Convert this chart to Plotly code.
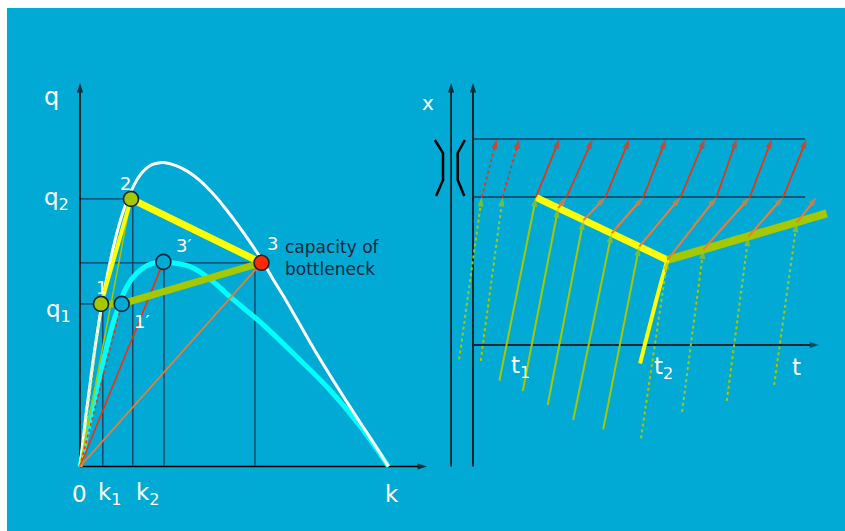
import plotly.graph_objects as go

# ---------------- colours ----------------
BG = '#00AAD4'
NAVY = '#1b3a58'
YELLOW = '#FFFF00'
YG = '#A6C800'
RED = '#FF2A00'
ORANGE = '#F07B32'
CYAN = '#00FFFF'
WHITE = '#FFFFFF'
BLACK = '#000000'
FONT = 'DejaVu Sans'

# ---------------- left panel: fundamental diagram (k, q) ----------------
k_white = [0, 2, 4, 6, 8, 10, 12, 14, 16, 18, 20, 22, 24, 26, 27.8, 32, 36, 40, 44, 48, 52, 56, 60,
           64, 68, 72, 76, 80, 84, 88, 92, 96, 100, 102.8]
q_white = [0, 17.2, 32.6, 46.1, 58.0, 68.1, 76.7, 83.8, 89.4, 93.8, 97.1, 99.3, 100.6, 101.2, 101.3,
           100.3, 98.3, 95.3, 91.3, 86.6, 81.4, 75.8, 69.8, 63.0, 56.5, 49.6, 42.6, 35.8, 29.3, 23.0,
           16.8, 10.7, 4.5, 0]

k_cyan = [0, 5.6, 8.9, 11.7, 15.6, 18.9, 23.3, 28, 36.7, 44.4, 50, 61.1, 72.2, 83.3, 94.4, 102.8]
q_cyan = [0, 26, 39.9, 49.9, 59.9, 64.4, 67.4, 68, 66.6, 61.6, 56.6, 47.2, 36.6, 25.5, 12.2, 0]

# states 1, 1', 2, 3', 3
state_names = ['1', "1'", '2', "3'", '3']
state_k = [7.0, 13.9, 17.0, 27.8, 60.5]
state_q = [54.2, 54.2, 89.2, 68.2, 67.9]

# guide values
q1, q2, q3 = 54.2, 89.2, 67.9
k1, k2, k3p, k3 = 7.6, 17.6, 28.0, 58.3
k_axis_end, q_axis_end = 115.7, 127.8

# ---------------- right panel: time-space diagram (t, x) ----------------
x_entry, x_exit = 74.0, 103.0          # bottleneck entry / exit
t_lines_end = 110.7
t_axis_end = 115.4
x_vert_bottom, x_vert_top = -60.8, 131.0
t_road_lines = [-7.3, 0.0]

t_start = [-4.6, 2.6, 8.8, 16.6, 24.9, 33.4, 43.4, 56.0, 69.7, 84.6, 100.4]
x_start = [-7.2, -7.9, -17.9, -23.0, -30.0, -37.5, -42.2, -46.7, -33.4, -27.9, -20.0]
t_shock = [None, None, 21.0, 28.4, 36.8, 46.2, 55.4, 64.8, 76.8, 91.8, 107.9]
x_shock = [None, None, 73.8, 68.4, 62.4, 55.8, 49.2, 42.5, 47.8, 54.2, 61.2]
t_entry = [2.9, 9.9, 21.0, 31.2, 44.2, 56.8, 69.2, 81.2, 92.3, 103.4, 114.6]
t_exit = [7.9, 15.4, 28.8, 39.9, 52.1, 64.3, 77.3, 87.9, 99.6, 111.2, None]
green_dash = ['dot', 'dot', 'solid', 'solid', 'solid', 'solid', 'solid', 'dot', 'dot', 'dot', 'dot']
red_dash = ['dot', 'dot'] + ['solid'] * 9

shock12_t = [21.0, 64.8]
shock12_x = [73.8, 42.5]
shock13_t = [64.8, 117.9]
shock13_x = [42.5, 65.8]
shock_t2_t = [55.7, 62.3, 64.8]
shock_t2_x = [-9.2, 29.2, 42.5]

bracket_left_t = [-12.7, -10.0, -10.0, -12.3]
bracket_right_t = [-2.7, -5.1, -5.1, -2.9]
bracket_x = [102.5, 96.0, 82.5, 74.5]

fig = go.Figure()


def seg(xs, ys, color, width, dash='solid', head=0, xa='x', ya='y', shape='linear'):
    sizes = [0] * (len(xs) - 1) + [head]
    fig.add_trace(go.Scatter(
        x=xs, y=ys, xaxis=xa, yaxis=ya,
        mode='lines+markers' if head else 'lines',
        line=dict(color=color, width=width, dash=dash, shape=shape),
        marker=dict(symbol='arrow', size=sizes, angleref='previous', color=color, line=dict(width=0)),
        hoverinfo='skip', showlegend=False))


# ===== left panel =====
for qq, kk in [(q2, state_k[2]), (q3, state_k[4]), (q1, state_k[0])]:
    seg([0, kk], [qq, qq], NAVY, 1.3)
for kk, qq in [(k1, q1), (k2, q2), (k3p, state_q[3]), (k3, q3)]:
    seg([kk, kk], [0, qq], NAVY, 1.3)

seg([0, 0], [0, q_axis_end], BLACK, 1.5, head=10)
seg([0, k_axis_end], [0, 0], BLACK, 1.5, head=10)

seg(k_cyan, q_cyan, CYAN, 5, shape='spline')
seg(k_white, q_white, WHITE, 3, shape='spline')

seg([0, state_k[0]], [0, state_q[0]], '#e6f0a0', 2.5, dash='dot')
seg([0, state_k[2]], [0, state_q[2]], YG, 1.5)
seg([0, state_k[1]], [0, state_q[1]], RED, 1.5, dash='dot', head=8)
seg([0, state_k[3]], [0, state_q[3]], RED, 1.5, head=9)
seg([0, state_k[4]], [0, state_q[4]], ORANGE, 1.8, head=10)

seg([state_k[0], state_k[2]], [state_q[0], state_q[2]], YELLOW, 4)
seg([state_k[2], state_k[4]], [state_q[2], state_q[4]], YELLOW, 7)
seg([state_k[0], state_k[1], state_k[4]], [state_q[0], state_q[1], state_q[4]], YG, 7)

fills = [YG, BG, YG, BG, RED]
fig.add_trace(go.Scatter(
    x=state_k, y=state_q, mode='markers',
    marker=dict(size=15, color=fills, line=dict(color='#10263c', width=1.6)),
    hoverinfo='skip', showlegend=False))

# ===== right panel =====
for tt in t_road_lines:
    seg([tt, tt], [x_vert_bottom, x_vert_top], BLACK, 1.5, head=10, xa='x2', ya='y2')
seg([0, t_axis_end], [0, 0], '#10263c', 1.8, head=10, xa='x2', ya='y2')
seg([0, t_lines_end], [x_exit, x_exit], NAVY, 1.5, xa='x2', ya='y2')
seg([0, t_lines_end], [x_entry, x_entry], NAVY, 1.5, xa='x2', ya='y2')

seg(bracket_left_t, bracket_x, BLACK, 2.5, xa='x2', ya='y2')
seg(bracket_right_t, bracket_x, BLACK, 2.5, xa='x2', ya='y2')

seg(shock12_t, shock12_x, YELLOW, 7, xa='x2', ya='y2')
seg(shock13_t, shock13_x, YG, 8, xa='x2', ya='y2')
seg(shock_t2_t, shock_t2_x, YELLOW, 4, xa='x2', ya='y2', shape='spline')

for i in range(len(t_start)):
    if t_shock[i] is None:
        seg([t_start[i], t_entry[i]], [x_start[i], x_entry], YG, 2, dash=green_dash[i], head=10, xa='x2', ya='y2')
    else:
        seg([t_start[i], t_shock[i]], [x_start[i], x_shock[i]], YG, 2, dash=green_dash[i], head=10, xa='x2', ya='y2')
        if t_shock[i] != t_entry[i]:
            seg([t_shock[i], t_entry[i]], [x_shock[i], x_entry], ORANGE, 2, head=10, xa='x2', ya='y2')
    if t_exit[i] is not None:
        seg([t_entry[i], t_exit[i]], [x_entry, x_exit], RED, 1.6, dash=red_dash[i], head=10, xa='x2', ya='y2')

# ---------------- labels ----------------
ann = []


def label(text, x, y, size, color=WHITE, xa='x', ya='y', anchor='left'):
    ann.append(dict(text=text, x=x, y=y, xref=xa, yref=ya, showarrow=False,
                    xanchor=anchor, yanchor='middle', align='left',
                    font=dict(family=FONT, size=size, color=color)))


label('q', -12.8, 123.2, 24)
label('q<sub>2</sub>', -12.8, 89.3, 23)
label('q<sub>1</sub>', -11.9, 51.8, 23)
label('0', -3.2, -9.0, 23)
label('k<sub>1</sub>', 5.3, -9.0, 23)
label('k<sub>2</sub>', 18.0, -9.0, 23)
label('k', 100.9, -9.0, 23)
label('1', 7.0, 59.8, 18, anchor='center')
label('2', 15.0, 94.5, 18, anchor='center')
label('3\u2032', 34.7, 73.8, 18, anchor='center')
label('1\u2032', 20.7, 48.2, 18, anchor='center')
label('3', 64.3, 74.5, 18, anchor='center')
label('capacity of<br>bottleneck', 67.8, 69.5, 17, color='#14283f')

label('x', -15.0, 121.0, 20, xa='x2', ya='y2', anchor='center')
label('t<sub>1</sub>', 12.0, -11.0, 23, xa='x2', ya='y2')
label('t<sub>2</sub>', 59.5, -11.5, 23, xa='x2', ya='y2')
label('t', 107.7, -11.0, 23, xa='x2', ya='y2', anchor='center')

fig.update_layout(
    width=845, height=531,
    margin=dict(l=0, r=0, t=0, b=0),
    paper_bgcolor='white', plot_bgcolor='rgba(0,0,0,0)',
    showlegend=False,
    xaxis=dict(range=[-80 / 3, 765 / 3], domain=[0, 1], visible=False, fixedrange=True),
    yaxis=dict(range=[-64.5 / 3, 466.5 / 3], domain=[0, 1], visible=False, fixedrange=True),
    xaxis2=dict(range=[-473 / 3, 372 / 3], overlaying='x', anchor='y2', visible=False, fixedrange=True),
    yaxis2=dict(range=[-93, 172.5], overlaying='y', anchor='x2', visible=False, fixedrange=True),
    shapes=[dict(type='rect', xref='paper', yref='paper', x0=7 / 845, x1=1, y0=0, y1=523 / 531,
                 fillcolor=BG, line_width=0, layer='below')],
    annotations=ann,
)

fig.write_html('out.html', config={'displayModeBar': False},
               post_script="document.body.style.margin='0';document.body.style.overflow='hidden';")
